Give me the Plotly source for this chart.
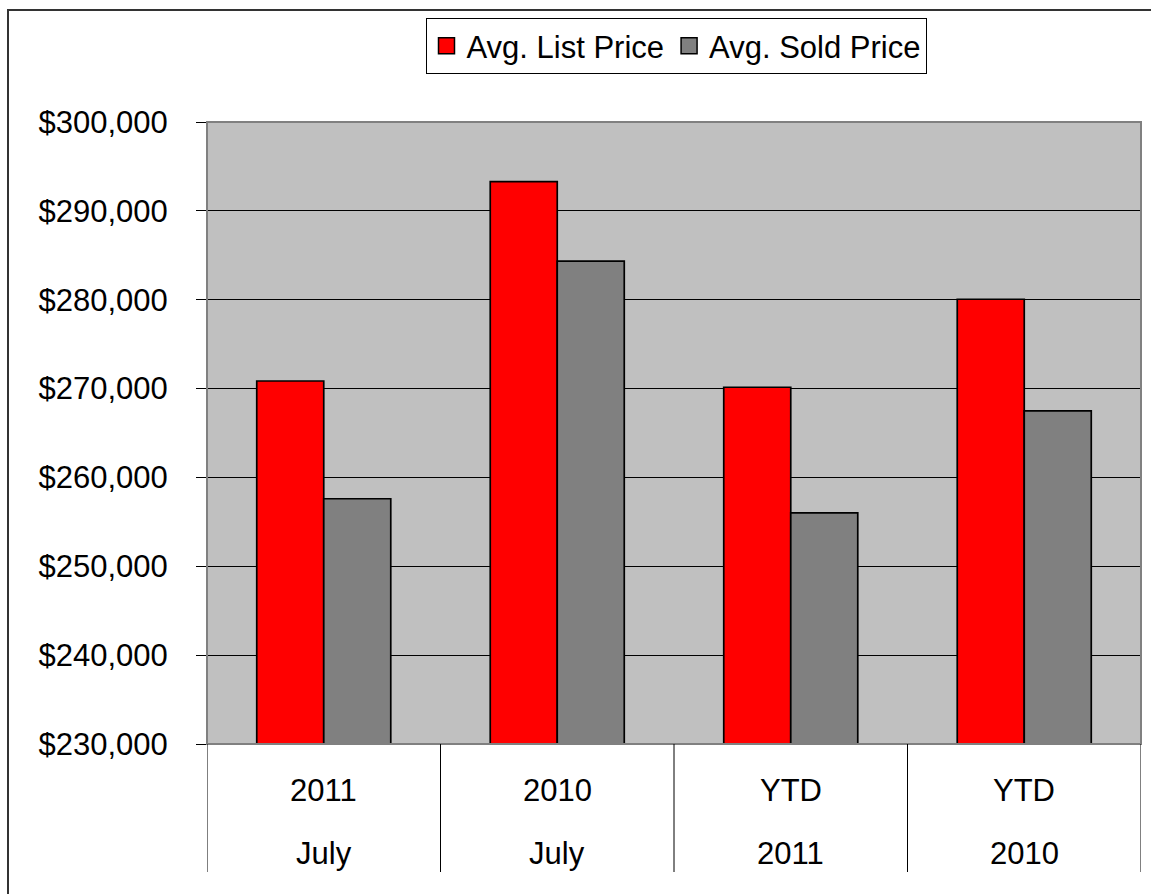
import plotly.graph_objects as go

# ---- data ----
categories = ["July 2011", "July 2010", "YTD 2011", "YTD 2010"]
label_top = ["2011", "2010", "YTD", "YTD"]
label_bottom = ["July", "July", "2011", "2010"]
list_price = [270850, 293300, 270150, 280050]
sold_price = [257600, 284350, 256000, 267480]
series_names = ["Avg. List Price", "Avg. Sold Price"]
y_ticks = [230000, 240000, 250000, 260000, 270000, 280000, 290000, 300000]

W, H = 1151, 894
L, R, T, B = 207, 10, 122, 150
pw, ph = W - L - R, H - T - B

def px_x(p):
    return (p - L) / pw

def px_y(p):
    return (H - B - p) / ph

FONT = "Liberation Sans, Arial, sans-serif"
FS = 31
RED = "#FF0000"
GRAY = "#808080"

fig = go.Figure()
fig.add_trace(go.Bar(x=categories, y=list_price, name=series_names[0],
                     marker=dict(color=RED, line=dict(color="black", width=1.7)),
                     showlegend=False))
fig.add_trace(go.Bar(x=categories, y=sold_price, name=series_names[1],
                     marker=dict(color=GRAY, line=dict(color="black", width=1.7)),
                     showlegend=False))
# legend entries with larger square swatches
for nm, col in zip(series_names, [RED, GRAY]):
    fig.add_trace(go.Scatter(x=[None], y=[None], mode="markers", name=nm,
                             marker=dict(symbol="square", size=22, color=col,
                                         line=dict(color="black", width=1.5))))

shapes = []
# outer chart border (top and left visible, rest cropped)
shapes.append(dict(type="rect", xref="paper", yref="paper",
                   x0=px_x(8), x1=px_x(W + 20), y0=px_y(H + 20), y1=px_y(10),
                   line=dict(color="#333333", width=2), layer="below"))
# plot area border (gray)
shapes.append(dict(type="rect", xref="paper", yref="paper",
                   x0=0, x1=1, y0=0, y1=1,
                   line=dict(color="#808080", width=2), layer="above"))
# category dividers below the axis
for i in range(len(categories) + 1):
    shapes.append(dict(type="line", xref="x", yref="paper",
                       x0=i - 0.5, x1=i - 0.5, y0=px_y(872), y1=0,
                       line=dict(color="black", width=1)))

annotations = []
for c, t1, t2 in zip(categories, label_top, label_bottom):
    annotations.append(dict(x=c, y=px_y(790), xref="x", yref="paper", text=t1,
                            showarrow=False, yanchor="middle",
                            font=dict(size=FS, color="black", family=FONT)))
    annotations.append(dict(x=c, y=px_y(853), xref="x", yref="paper", text=t2,
                            showarrow=False, yanchor="middle",
                            font=dict(size=FS, color="black", family=FONT)))

fig.update_layout(
    width=W, height=H,
    margin=dict(l=L, r=R, t=T, b=B, pad=0),
    paper_bgcolor="white",
    plot_bgcolor="#C0C0C0",
    barmode="group",
    bargap=0.426,
    bargroupgap=0,
    font=dict(family=FONT, size=FS, color="black"),
    shapes=shapes,
    annotations=annotations,
    legend=dict(orientation="h", x=px_x(676), xanchor="center",
                y=px_y(18), yanchor="top",
                bgcolor="white", bordercolor="black", borderwidth=1,
                font=dict(size=FS, color="black", family=FONT),
                itemsizing="trace"),
    xaxis=dict(type="category", showticklabels=False, showgrid=False,
               showline=True, linecolor="black", linewidth=1, ticks="",
               range=[-0.5, len(categories) - 0.5], zeroline=False),
    yaxis=dict(range=[230000, 300000], tickvals=y_ticks, tickformat="$,.0f",
               showgrid=True, gridcolor="black", gridwidth=1,
               showline=True, linecolor="black", linewidth=1,
               ticks="outside", ticklen=10, tickcolor="black",
               ticklabelstandoff=22, zeroline=False,
               tickfont=dict(size=FS, color="black", family=FONT)),
)

fig.write_html("out.html")
